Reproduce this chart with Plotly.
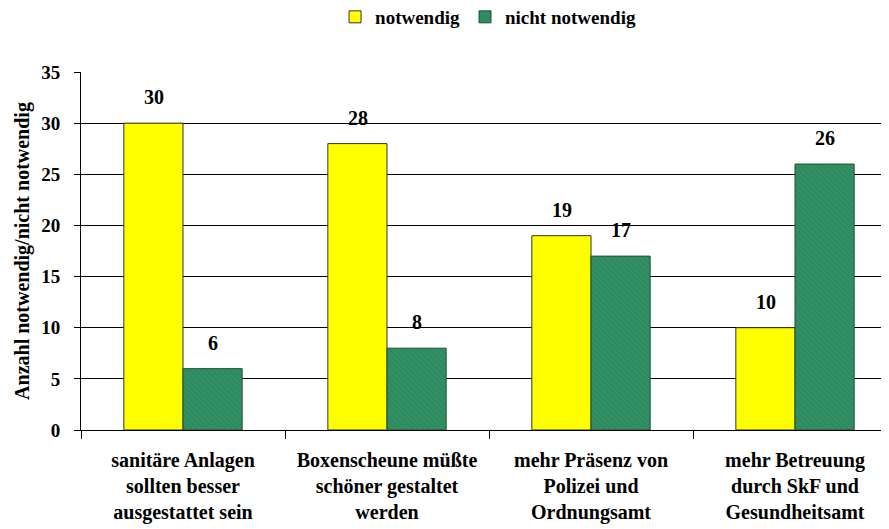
import plotly.graph_objects as go

# data
categories = [
    "sanitäre Anlagen<br>sollten besser<br>ausgestattet sein",
    "Boxenscheune müßte<br>schöner gestaltet<br>werden",
    "mehr Präsenz von<br>Polizei und<br>Ordnungsamt",
    "mehr Betreuung<br>durch SkF und<br>Gesundheitsamt",
]
notwendig = [30, 28, 19, 10]
nicht_notwendig = [6, 8, 17, 26]

font_fam = "Liberation Serif, Times New Roman, serif"

fig = go.Figure()
fig.add_trace(go.Bar(
    x=categories, y=notwendig, name="<b>notwendig</b>",
    marker=dict(color="#ffff00", line=dict(color="#333333", width=1)),
))
fig.add_trace(go.Bar(
    x=categories, y=nicht_notwendig, name="<b>nicht notwendig</b>",
    marker=dict(color="#2e8b60", line=dict(color="#1f4f35", width=1),
                pattern=dict(shape="\\", fgcolor="#4aa67a", size=4, solidity=0.2)),
))

# value labels floating a bit above each bar
for cat, a, b in zip(categories, notwendig, nicht_notwendig):
    for val, dx in ((a, -29.5), (b, 29.5)):
        fig.add_annotation(x=cat, y=val, text="<b>%d</b>" % val, showarrow=False,
                           xshift=dx, yshift=13, yanchor="bottom",
                           font=dict(size=20, color="black", family=font_fam))

# page body has an 8px margin, so shift everything up/left by 8
fig.update_layout(
    width=889, height=529,
    margin=dict(l=73, r=0, t=64, b=107, autoexpand=False),
    paper_bgcolor="white", plot_bgcolor="white",
    barmode="group", bargap=0.42, bargroupgap=0,
    font=dict(family=font_fam, color="black", size=18),
    showlegend=True,
    legend=dict(orientation="h", xref="container", yref="container",
                x=0.54, xanchor="center", y=0.983, yanchor="middle",
                font=dict(size=19, family=font_fam), itemwidth=30,
                tracegroupgap=0, traceorder="normal"),
)
fig.update_yaxes(
    range=[0, 35], dtick=5, showgrid=True, gridcolor="black", gridwidth=1,
    showline=True, linecolor="black", linewidth=1,
    ticks="outside", ticklen=6, tickcolor="black",
    tickfont=dict(size=19, family=font_fam), ticklabelstandoff=10,
    title=dict(text="<b>Anzahl notwendig/nicht notwendig</b>", font=dict(size=20), standoff=6),
    tickprefix="<b>", ticksuffix="</b>",
    zeroline=False, automargin=False,
)
fig.update_xaxes(
    showline=True, linecolor="black", linewidth=1,
    ticks="outside", tickson="boundaries", ticklen=8, tickcolor="black",
    tickfont=dict(size=20, family=font_fam), automargin=False,
    ticklabelstandoff=12,
)
# bold multi-line tick labels
fig.update_xaxes(tickvals=categories,
                 ticktext=["<b>" + c.replace("<br>", "</b><br><b>") + "</b>" for c in categories])

fig.write_html("out.html")
